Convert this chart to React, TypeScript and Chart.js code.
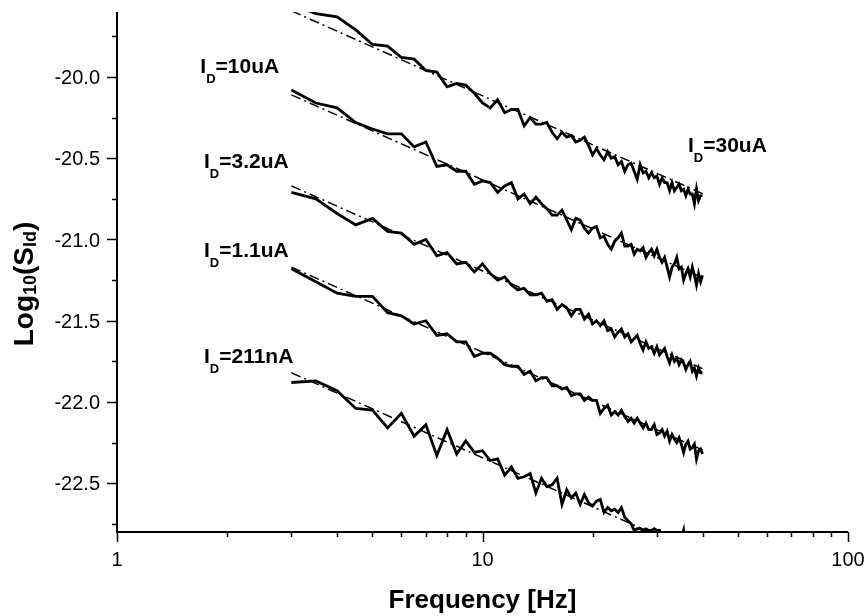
import React, { useEffect, useRef } from "react";
import { Chart, registerables } from "chart.js";

Chart.register(...registerables);

// Frequency bins (Hz)
const freqs = [
  3, 3.5, 4, 4.5, 5, 5.5, 6, 6.5, 7, 7.5,
  8, 8.5, 9, 9.5, 10, 10.5, 11, 11.5, 12, 12.5,
  13, 13.5, 14, 14.5, 15, 15.5, 16, 16.5, 17, 17.5,
  18, 18.5, 19, 19.5, 20, 20.5, 21, 21.5, 22, 22.5,
  23, 23.5, 24, 24.5, 25, 25.5, 26, 26.5, 27, 27.5,
  28, 28.5, 29, 29.5, 30, 30.5, 31, 31.5, 32, 32.5,
  33, 33.5, 34, 34.5, 35, 35.5, 36, 36.5, 37, 37.5,
  38, 38.5, 39, 39.5, 40,
];

// log10(S_Id) for each drain current
const s30uA = [
  -19.55, -19.61, -19.63, -19.71, -19.80, -19.81, -19.88, -19.89, -19.96, -19.97,
  -20.06, -20.04, -20.05, -20.10, -20.16, -20.19, -20.14, -20.22, -20.20, -20.20,
  -20.30, -20.25, -20.29, -20.29, -20.28, -20.34, -20.38, -20.34, -20.37, -20.36,
  -20.40, -20.39, -20.37, -20.42, -20.48, -20.44, -20.48, -20.51, -20.46, -20.50,
  -20.49, -20.54, -20.52, -20.58, -20.54, -20.53, -20.58, -20.63, -20.54, -20.59,
  -20.58, -20.62, -20.59, -20.62, -20.61, -20.66, -20.62, -20.65, -20.65, -20.70,
  -20.65, -20.70, -20.68, -20.66, -20.70, -20.69, -20.73, -20.69, -20.72, -20.72,
  -20.78, -20.69, -20.76, -20.73, -20.73,
];
const s10uA = [
  -20.08, -20.16, -20.19, -20.28, -20.32, -20.35, -20.35, -20.43, -20.40, -20.55,
  -20.54, -20.58, -20.58, -20.66, -20.64, -20.65, -20.71, -20.67, -20.65, -20.75,
  -20.72, -20.78, -20.74, -20.78, -20.81, -20.85, -20.85, -20.82, -20.88, -20.94,
  -20.87, -20.88, -20.93, -20.96, -20.93, -20.92, -20.99, -20.98, -21.03, -21.06,
  -21.01, -20.99, -20.96, -21.04, -21.04, -21.03, -21.09, -21.06, -21.07, -21.05,
  -21.11, -21.08, -21.06, -21.10, -21.06, -21.11, -21.14, -21.11, -21.17, -21.23,
  -21.17, -21.15, -21.11, -21.18, -21.17, -21.25, -21.21, -21.18, -21.23, -21.17,
  -21.22, -21.28, -21.21, -21.26, -21.22,
];
const s3_2uA = [
  -20.71, -20.75, -20.84, -20.91, -20.87, -20.95, -20.96, -21.03, -21.00, -21.10,
  -21.08, -21.15, -21.14, -21.20, -21.15, -21.21, -21.25, -21.23, -21.28, -21.31,
  -21.30, -21.34, -21.34, -21.33, -21.38, -21.37, -21.43, -21.40, -21.42, -21.47,
  -21.43, -21.43, -21.49, -21.46, -21.52, -21.50, -21.53, -21.50, -21.56, -21.55,
  -21.60, -21.57, -21.55, -21.60, -21.58, -21.63, -21.61, -21.59, -21.64, -21.68,
  -21.63, -21.67, -21.66, -21.70, -21.66, -21.71, -21.69, -21.67, -21.72, -21.76,
  -21.71, -21.75, -21.73, -21.77, -21.74, -21.76, -21.80, -21.77, -21.75, -21.81,
  -21.79, -21.84, -21.79, -21.82, -21.82,
];
const s1_1uA = [
  -21.18, -21.26, -21.33, -21.35, -21.35, -21.45, -21.47, -21.52, -21.50, -21.59,
  -21.58, -21.63, -21.63, -21.72, -21.70, -21.70, -21.73, -21.77, -21.78, -21.78,
  -21.83, -21.81, -21.87, -21.85, -21.85, -21.90, -21.90, -21.92, -21.91, -21.96,
  -21.95, -21.95, -21.99, -21.97, -21.99, -21.99, -22.07, -22.04, -22.02, -22.08,
  -22.06, -22.08, -22.05, -22.09, -22.12, -22.10, -22.13, -22.10, -22.13, -22.16,
  -22.13, -22.17, -22.17, -22.14, -22.20, -22.19, -22.17, -22.21, -22.18, -22.24,
  -22.20, -22.23, -22.25, -22.22, -22.26, -22.31, -22.26, -22.24, -22.29, -22.28,
  -22.26, -22.35, -22.30, -22.29, -22.32,
];
const s211nA = [
  -21.88, -21.87, -21.93, -22.04, -22.05, -22.16, -22.07, -22.21, -22.14, -22.33,
  -22.17, -22.32, -22.24, -22.31, -22.30, -22.36, -22.35, -22.45, -22.40, -22.47,
  -22.46, -22.44, -22.56, -22.47, -22.52, -22.51, -22.47, -22.63, -22.54, -22.59,
  -22.56, -22.63, -22.57, -22.62, -22.64, -22.61, -22.60, -22.68, -22.65, -22.67,
  -22.66, -22.68, -22.65, -22.71, -22.73, -22.75, -22.79, -22.78, -22.78, -22.79,
  -22.78, -22.79, -22.79, -22.78, -22.79, -22.79, -22.83, -22.86, -22.87, -22.85,
  -22.89, -22.87, -22.91, -22.86, -22.84, -22.79, -22.92, -22.90, -22.95, -22.92,
  -22.96, -22.99, -22.95, -22.97, -22.97,
];
const seriesValues = [s30uA, s10uA, s3_2uA, s1_1uA, s211nA];

// 1/f fit lines (dash-dot)
const fitFreqs = [3, 40];
const fitStart = [-19.593, -20.11, -20.67, -21.17, -21.82];
const fitEnd = [-20.718, -21.235, -21.795, -22.295, -22.945];

// Axis ticks
const yMajorTicks = [-20.0, -20.5, -21.0, -21.5, -22.0, -22.5];
const yMinorTicks = [-19.75, -20.25, -20.75, -21.25, -21.75, -22.25, -22.75];
const xMajorTicks = [1, 10, 100];
const xMinorTicks = [2, 3, 4, 5, 6, 7, 8, 9, 20, 30, 40, 50, 60, 70, 80, 90];

// Curve labels (subscript D)
const labelNames = ["30uA", "10uA", "3.2uA", "1.1uA", "211nA"];
const labelFreq = [36.5, 1.69, 1.73, 1.73, 1.73];
const labelVal = [-20.46, -19.975, -20.558, -21.11, -21.761];

const FONT = '"Liberation Sans", Arial, Helvetica, sans-serif';

type Part = [string, number, number];

function drawRich(ctx: CanvasRenderingContext2D, parts: Part[], x: number, y: number, bold: boolean, align: "left" | "center") {
  const w = (p: Part) => {
    ctx.font = `${bold ? "bold " : ""}${p[1]}px ${FONT}`;
    return ctx.measureText(p[0]).width;
  };
  let total = 0;
  parts.forEach((p) => (total += w(p)));
  let cx = align === "center" ? x - total / 2 : x;
  ctx.textAlign = "left";
  ctx.textBaseline = "alphabetic";
  parts.forEach((p) => {
    ctx.font = `${bold ? "bold " : ""}${p[1]}px ${FONT}`;
    ctx.fillText(p[0], cx, y + p[2]);
    cx += ctx.measureText(p[0]).width;
  });
}

const axesPlugin = {
  id: "originAxes",
  afterDraw(chart: any) {
    const ctx: CanvasRenderingContext2D = chart.ctx;
    const xs = chart.scales.x;
    const ys = chart.scales.y;
    const a = chart.chartArea;
    ctx.save();
    ctx.strokeStyle = "#000";
    ctx.fillStyle = "#000";
    ctx.lineWidth = 2;
    ctx.beginPath();
    ctx.moveTo(a.left, a.top);
    ctx.lineTo(a.left, a.bottom);
    ctx.lineTo(a.right, a.bottom);
    ctx.stroke();

    ctx.lineWidth = 1.5;
    ctx.beginPath();
    yMajorTicks.forEach((v) => {
      const p = Math.round(ys.getPixelForValue(v)) + 0.5;
      ctx.moveTo(a.left - 10, p);
      ctx.lineTo(a.left, p);
    });
    yMinorTicks.forEach((v) => {
      const p = Math.round(ys.getPixelForValue(v)) + 0.5;
      ctx.moveTo(a.left - 5, p);
      ctx.lineTo(a.left, p);
    });
    xMajorTicks.forEach((v) => {
      const p = Math.round(xs.getPixelForValue(v)) + 0.5;
      ctx.moveTo(p, a.bottom);
      ctx.lineTo(p, a.bottom + 10);
    });
    xMinorTicks.forEach((v) => {
      const p = Math.round(xs.getPixelForValue(v)) + 0.5;
      ctx.moveTo(p, a.bottom);
      ctx.lineTo(p, a.bottom + 5);
    });
    ctx.stroke();

    // tick labels
    ctx.font = `20px ${FONT}`;
    ctx.textAlign = "right";
    ctx.textBaseline = "alphabetic";
    yMajorTicks.forEach((v) => {
      ctx.fillText(v.toFixed(1), a.left - 17, ys.getPixelForValue(v) + 7);
    });
    ctx.textAlign = "center";
    xMajorTicks.forEach((v) => {
      ctx.fillText(String(v), xs.getPixelForValue(v), a.bottom + 34);
    });

    // x title
    drawRich(ctx, [["Frequency [Hz]", 26, 0]], (a.left + a.right) / 2, a.bottom + 76, true, "center");

    // y title
    ctx.save();
    ctx.translate(33, (a.top + a.bottom) / 2 + 12);
    ctx.rotate(-Math.PI / 2);
    drawRich(
      ctx,
      [["Log", 28, 0], ["10", 18, 3], ["(S", 28, 0], ["Id", 18, 3], [")", 28, 0]],
      0,
      0,
      true,
      "center"
    );
    ctx.restore();

    // curve labels
    labelNames.forEach((name, i) => {
      const px = xs.getPixelForValue(labelFreq[i]);
      const py = ys.getPixelForValue(labelVal[i]);
      drawRich(ctx, [["I", 21, 0], ["D", 13, 10], ["=" + name, 21, 0]], px, py, true, "left");
    });
    ctx.restore();
  },
};

export default function App() {
  const ref = useRef<HTMLCanvasElement | null>(null);
  useEffect(() => {
    if (!ref.current) return;
    const datasets: any[] = [];
    seriesValues.forEach((vals) => {
      datasets.push({
        data: freqs.map((f, j) => ({ x: f, y: vals[j] })),
        borderColor: "#000",
        borderWidth: 2.8,
        pointRadius: 0,
        tension: 0,
        fill: false,
        order: 0,
        clip: 0,
      });
    });
    fitStart.forEach((v, i) => {
      datasets.push({
        data: [
          { x: fitFreqs[0], y: v },
          { x: fitFreqs[1], y: fitEnd[i] },
        ],
        borderColor: "#000",
        borderWidth: 1.5,
        borderDash: [10, 4, 2, 4],
        pointRadius: 0,
        tension: 0,
        fill: false,
        order: 1,
        clip: 0,
      });
    });
    const chart = new Chart(ref.current, {
      type: "line",
      data: { datasets },
      options: {
        animation: false,
        responsive: false,
        events: [],
        layout: { padding: { left: 117, right: 17, top: 12, bottom: 84 } },
        scales: {
          x: { type: "logarithmic", min: 1, max: 100, display: false },
          y: { type: "linear", min: -22.8, max: -19.6, display: false },
        },
        plugins: {
          legend: { display: false },
          tooltip: { enabled: false },
        },
      },
      plugins: [axesPlugin],
    });
    return () => chart.destroy();
  }, []);
  return (
    <div style={{ position: "fixed", left: 0, top: 0, width: 865, height: 616, background: "#fff" }}>
      <canvas ref={ref} width={865} height={616} style={{ display: "block" }} />
    </div>
  );
}
